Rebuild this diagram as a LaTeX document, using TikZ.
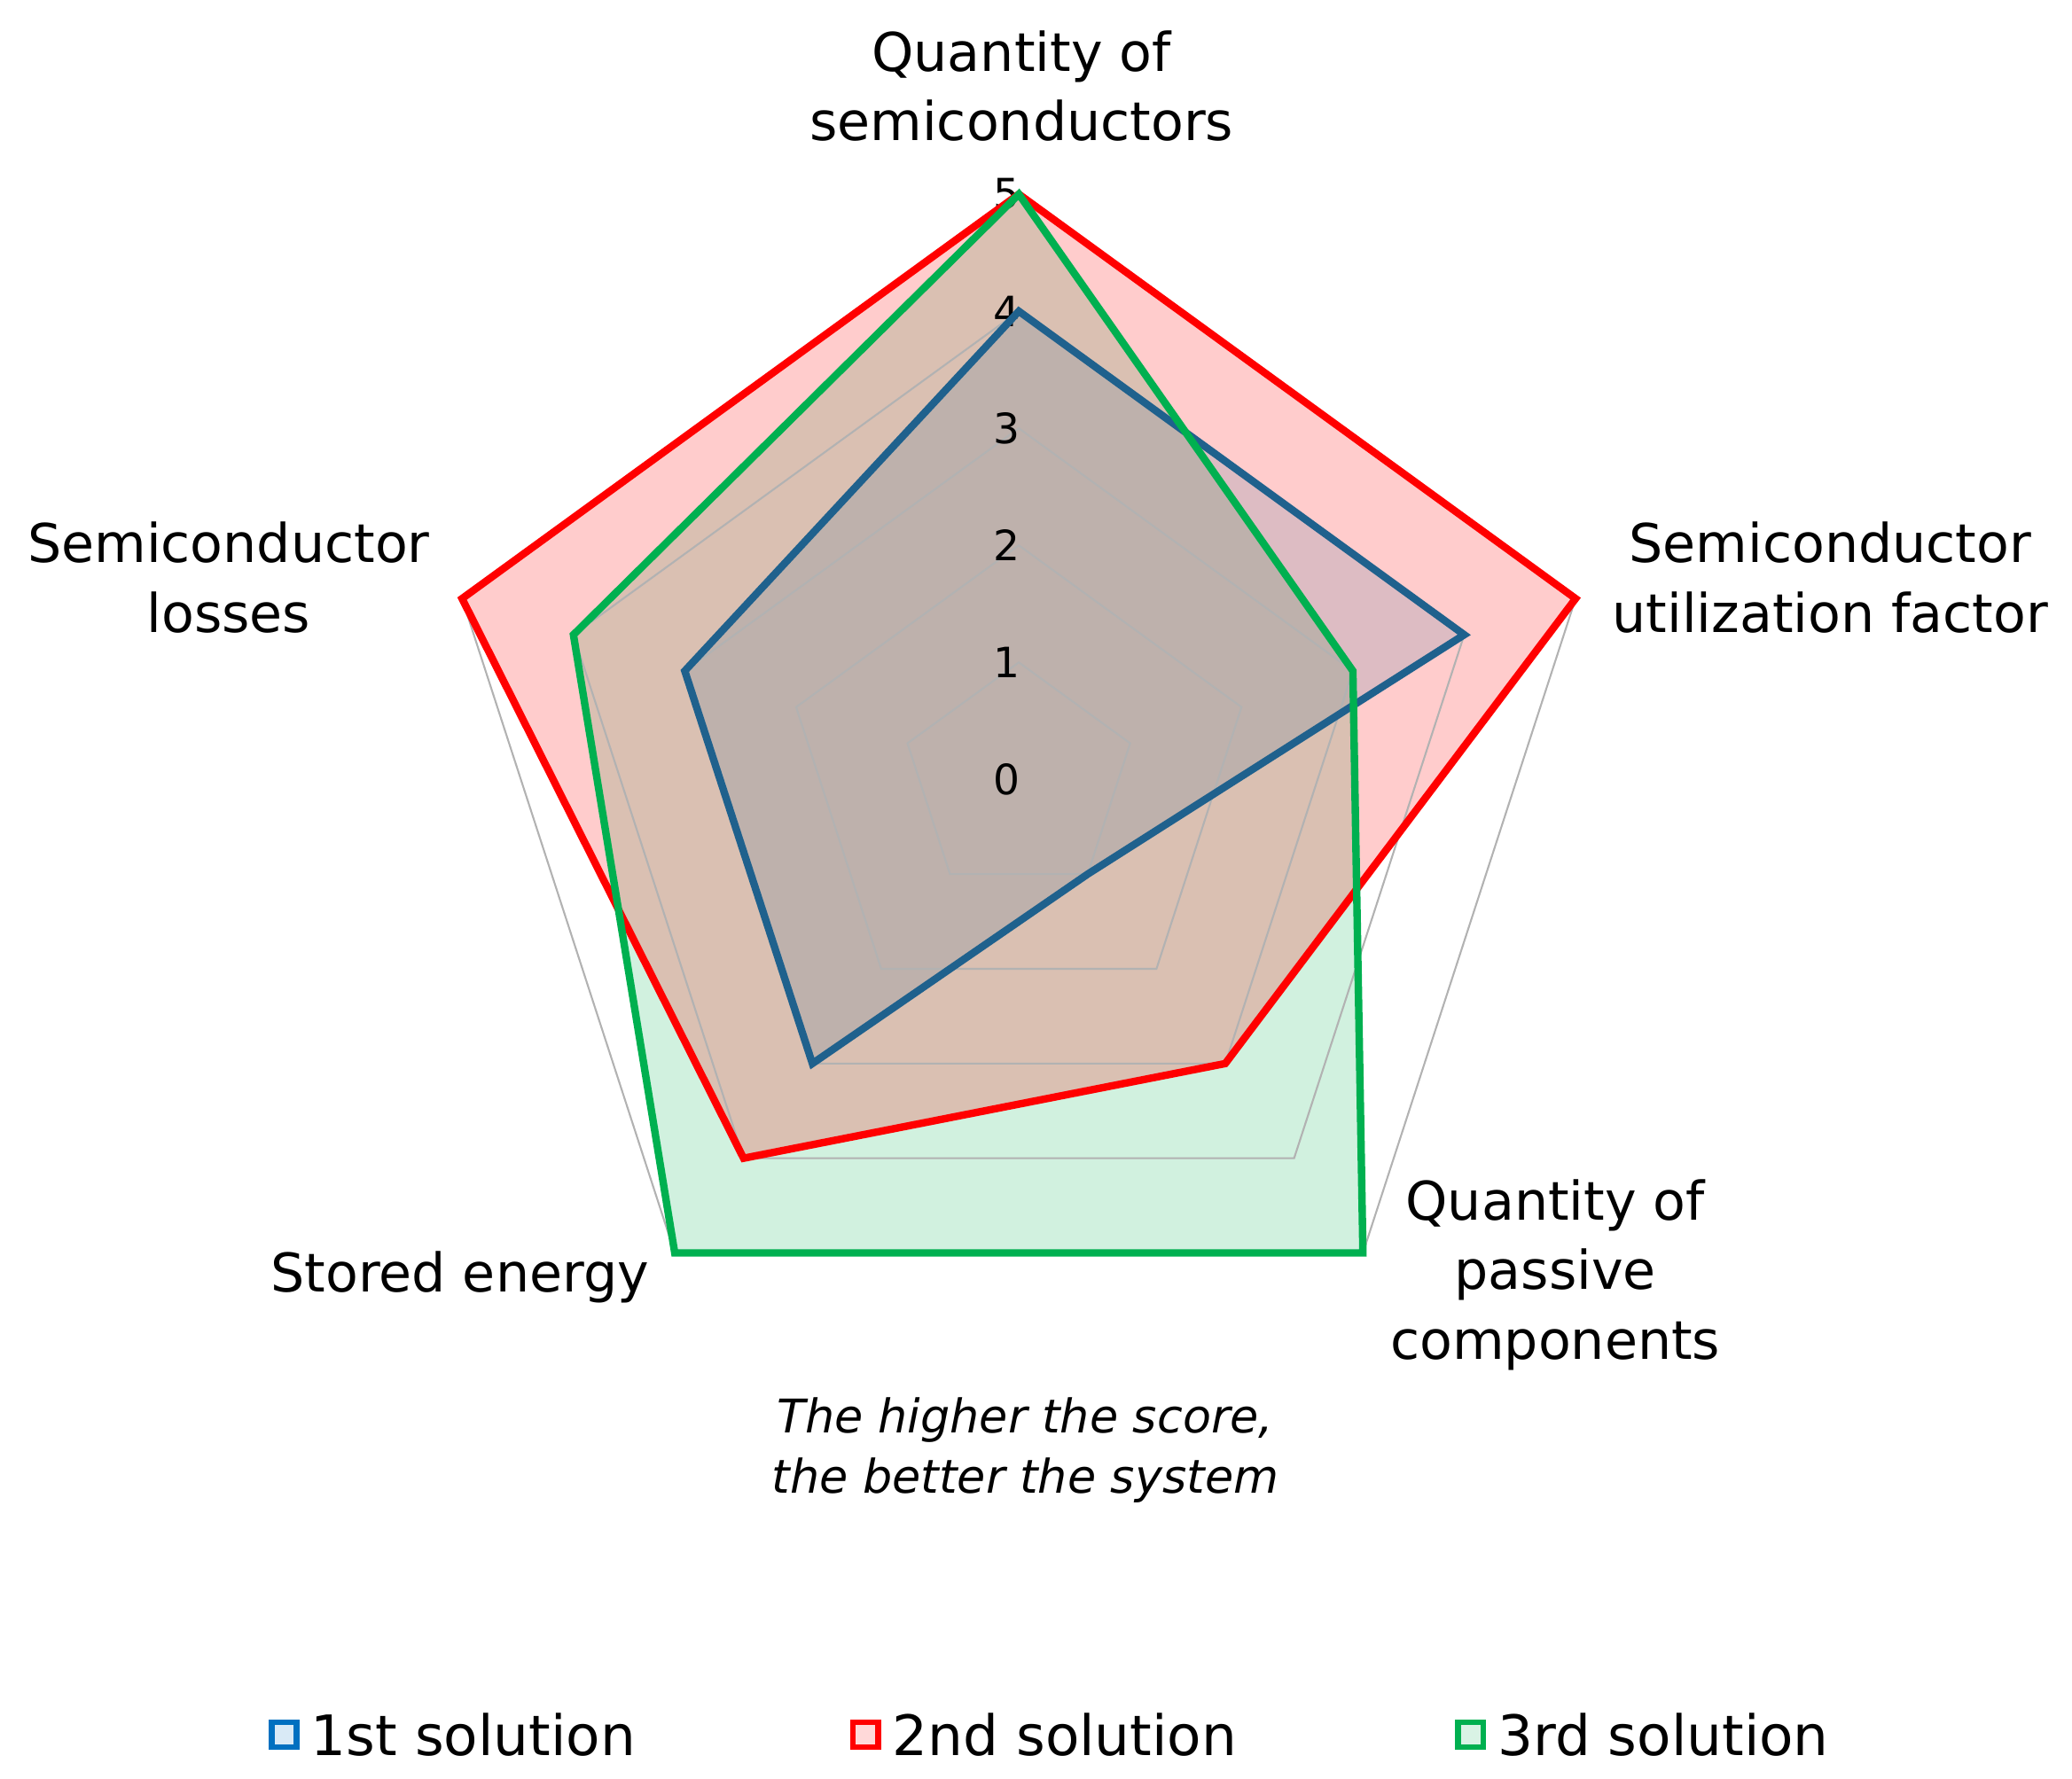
\documentclass[tikz,border=0pt]{standalone}
\usepackage{fontspec}
\setmainfont{DejaVu Sans}
\usetikzlibrary{positioning,calc}
\definecolor{solblue}{RGB}{31,97,141}
\definecolor{solred}{RGB}{255,0,0}
\definecolor{solgreen}{RGB}{0,176,80}
\definecolor{legblue}{RGB}{0,112,192}
\begin{document}
\begin{tikzpicture}[x=0.02cm, y=0.02cm,
  axlabel/.style={align=center, font=\fontsize{23}{30}\selectfont},
  tick/.style={font=\fontsize{18}{20}\selectfont},
  grid/.style={draw=gray!60, line width=0.8pt},
  series/.style={line width=3.2pt, line join=miter},
  legtext/.style={font=\fontsize{24}{28}\selectfont},
  legbox/.style={draw=#1, line width=2.5pt, fill=#1!15, minimum size=0.38cm, inner sep=0pt}
]
\useasboundingbox (0,0) rectangle (1568,1346);
\coordinate (c) at (771,756);
\def\u{88.6}

% ── Series fills ──
\fill[solgreen!18] ($(c)+(90:5*\u)$) -- ($(c)+(18:3*\u)$) -- ($(c)+(-54:5*\u)$)
  -- ($(c)+(-126:5*\u)$) -- ($(c)+(162:4*\u)$) -- cycle;
\fill[solred, opacity=0.2] ($(c)+(90:5*\u)$) -- ($(c)+(18:5*\u)$) -- ($(c)+(-54:3*\u)$)
  -- ($(c)+(-126:4*\u)$) -- ($(c)+(162:5*\u)$) -- cycle;
\fill[solblue, opacity=0.15] ($(c)+(90:4*\u)$) -- ($(c)+(18:4*\u)$) -- ($(c)+(-54:1*\u)$)
  -- ($(c)+(-126:3*\u)$) -- ($(c)+(162:3*\u)$) -- cycle;

% ── Grid ──
\foreach \k in {1,...,5}{
  \draw[grid] ($(c)+(90:\k*\u)$) -- ($(c)+(18:\k*\u)$) -- ($(c)+(-54:\k*\u)$)
    -- ($(c)+(-126:\k*\u)$) -- ($(c)+(162:\k*\u)$) -- cycle;
}

% ── Tick labels ──
\foreach \k in {0,...,5}{
  \node[tick] (t\k) at ($(c)+(-9,\k*\u)$) {\k};
}

% ── Series outlines ──
\draw[series, solblue] ($(c)+(90:4*\u)$) -- ($(c)+(18:4*\u)$) -- ($(c)+(-54:1*\u)$)
  -- ($(c)+(-126:3*\u)$) -- ($(c)+(162:3*\u)$) -- cycle;
\draw[series, solred] ($(c)+(90:5*\u)$) -- ($(c)+(18:5*\u)$) -- ($(c)+(-54:3*\u)$)
  -- ($(c)+(-126:4*\u)$) -- ($(c)+(162:5*\u)$) -- cycle;
\draw[series, solgreen] ($(c)+(90:5*\u)$) -- ($(c)+(18:3*\u)$) -- ($(c)+(-54:5*\u)$)
  -- ($(c)+(-126:5*\u)$) -- ($(c)+(162:4*\u)$) -- cycle;

% ── Axis labels ──
\node[axlabel] (qsemi) at (773,1281) {Quantity of\\semiconductors};
\node[axlabel] (util) at (1385,909) {Semiconductor\\utilization factor};
\node[axlabel] (loss) at (173,909) {Semiconductor\\losses};
\node[axlabel] (passive) at (1177,381) {Quantity of\\passive\\components};
\node[axlabel] (stored) at (348,379) {Stored energy};

% ── Note ──
\node[align=center, font=\fontsize{20}{26}\selectfont\itshape] (note) at (776,248)
  {The higher the score,\\the better the system};

% ── Legend ──
\node[legbox=legblue] (leg1) at (215,33) {};
\node[legtext, right=0.05cm of leg1] {1st solution};
\node[legbox=solred] (leg2) at (655,33) {};
\node[legtext, right=0.05cm of leg2] {2nd solution};
\node[legbox=solgreen] (leg3) at (1113,33) {};
\node[legtext, right=0.05cm of leg3] {3rd solution};
\end{tikzpicture}
\end{document}
